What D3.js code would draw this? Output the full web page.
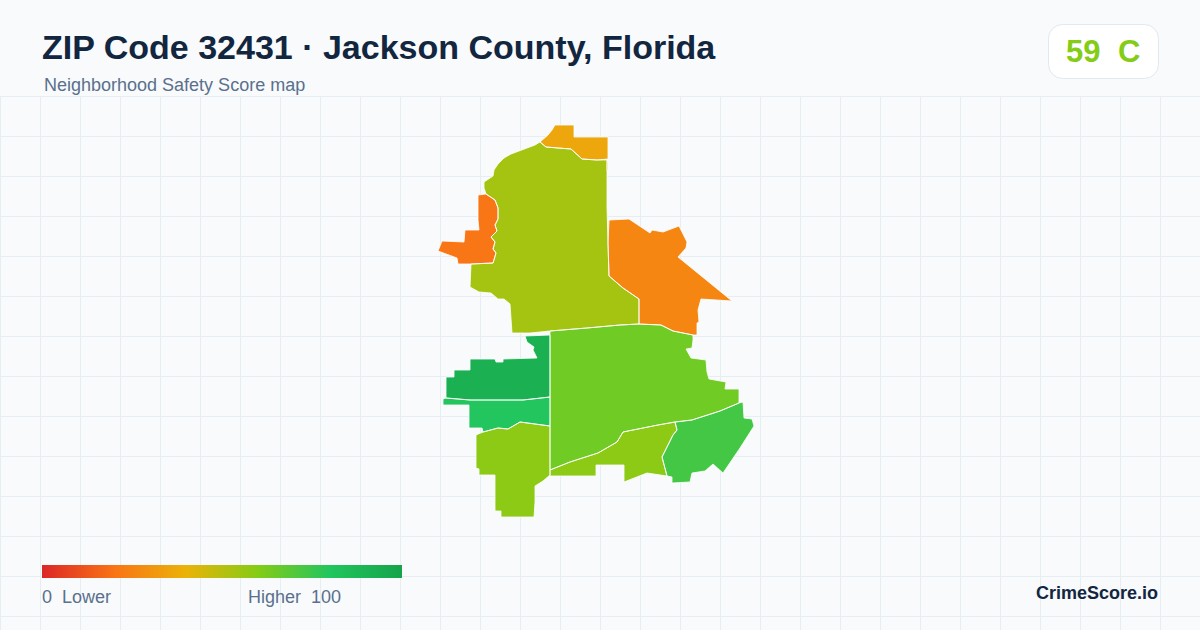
<!DOCTYPE html>
<html>
<head>
<meta charset="utf-8">
<script src="https://cdn.jsdelivr.net/npm/d3@7"></script>
<style>
    html, body { margin:0; padding:0; background:#f8fafc; }
    svg { display:block; font-family:"Liberation Sans", Arial, sans-serif; }
    text { white-space:pre; }
</style>
</head>
<body>
<div id="chart"></div>
<script>
//zone outlines in map units
const northZone = [[135,15],[154,15],[154,27],[188,27],[188,49],[177,50],[162,49],[151,39],[138,38],[126,37],[120,32],[128,25],[132,20]];
const northSliver = [[187,51],[188,51],[188,61],[187,61]];
const centralNorthZone = [[120,32],[126,37],[138,38],[151,39],[162,49],[177,50],[187,50],[187,67],[187,97],[188,133],[189,166],[203,178],[219,189],[219,214],[200,215],[167,218],[130,221],[110,223],[92,223],[90,194],[84,189],[78,189],[71,183],[59,182],[50,177],[51,154],[73,153],[76,143],[73,139],[75,132],[71,127],[77,121],[75,115],[78,109],[78,98],[75,90],[66,84],[64,78],[64,72],[73,66],[74,60],[78,54],[84,48],[91,44],[99,41],[107,38],[115,35]];
const westZone = [[58,85],[66,84],[75,90],[78,98],[78,109],[75,115],[77,121],[71,127],[75,132],[73,139],[76,143],[73,153],[51,154],[38,154],[37,148],[18,141],[22,131],[44,132],[45,120],[59,120],[58,110]];
const eastZone = [[189,110],[209,109],[230,123],[232,120],[243,122],[259,116],[267,132],[266,138],[258,147],[312,191],[281,189],[278,200],[279,212],[277,213],[277,225],[273,225],[253,221],[241,215],[219,214],[219,189],[203,178],[189,166],[188,133]];
const middleZone = [[130,221],[167,218],[200,215],[219,214],[241,215],[253,221],[273,225],[273,230],[272,238],[266,239],[271,248],[286,250],[287,262],[289,269],[306,272],[305,279],[319,279],[319,293],[300,301],[272,310],[255,312],[238,315],[203,322],[197,332],[178,343],[150,352],[130,360]];
const midWestZone = [[105,226],[130,225],[130,253],[130,287],[103,290],[67,290],[50,290],[26,288],[26,267],[34,267],[34,260],[50,260],[50,249],[75,249],[76,252],[83,252],[83,249],[117,248],[113,240],[114,237],[107,232]];
const lowerWestZone = [[23,289],[26,288],[50,290],[67,290],[103,290],[130,287],[130,316],[100,312],[88,319],[78,318],[63,322],[62,318],[49,318],[49,295],[23,295]];
const southWestZone = [[63,322],[78,318],[88,319],[100,312],[130,316],[130,365],[123,371],[115,376],[115,392],[114,407],[81,407],[81,401],[75,401],[75,365],[59,365],[59,359],[56,358],[56,325]];
const southZone = [[130,360],[150,352],[178,343],[197,332],[203,322],[238,315],[255,312],[257,320],[253,325],[242,347],[247,366],[227,363],[204,372],[204,355],[176,355],[176,366],[130,366]];
const southEastZone = [[255,312],[272,310],[300,301],[319,293],[323,292],[324,308],[332,309],[334,316],[320,338],[303,363],[293,354],[285,361],[272,363],[270,372],[252,373],[252,367],[247,366],[242,347],[253,325],[257,320]];

const zoneShapes = [northZone, northSliver, centralNorthZone, westZone, eastZone, middleZone, midWestZone, lowerWestZone, southWestZone, southZone, southEastZone];
const zoneScores = [36, 36, 53.5, 21, 26, 64, 92, 80, 58.5, 58.5, 73];

const scoreStops = [0, 20, 40, 60, 80, 100];
const scoreColors = ['#dc2626', '#f97316', '#eab308', '#84cc16', '#22c55e', '#16a34a'];

const titleText = 'ZIP Code 32431 · Jackson County, Florida';
const subtitleText = 'Neighborhood Safety Score map';
const badgeScore = '59';
const badgeGrade = 'C';
const legendLow = '0  Lower';
const legendHigh = 'Higher  100';
const brandText = 'CrimeScore.io';

const W = 1200;
const H = 630;
const headerH = 96;
const gridStep = 40;

const scaleColor = d3.scaleLinear().domain(scoreStops).range(scoreColors);
const scaleMapX = d3.scaleLinear().domain([0, 340]).range([420, 760]);
const scaleMapY = d3.scaleLinear().domain([0, 420]).range([110, 530]);
const scaleLegend = d3.scaleLinear().domain([0, 100]).range([42, 402]);

const svg = d3.select('#chart')
              .append('svg')
              .attr('width', W)
              .attr('height', H);

svg.append('rect')
   .attr('width', W)
   .attr('height', H)
   .attr('fill', '#f8fafc');

//background grid below the header
const grid = svg.append('g')
                .attr('stroke', '#e6eef3')
                .attr('stroke-width', 1);

grid.selectAll('line.v')
    .data(d3.range(0, W, gridStep))
    .join('line')
    .attr('class', 'v')
    .attr('x1', d => d + 0.5)
    .attr('x2', d => d + 0.5)
    .attr('y1', headerH)
    .attr('y2', H);

grid.selectAll('line.h')
    .data(d3.range(headerH, H, gridStep))
    .join('line')
    .attr('class', 'h')
    .attr('x1', 0)
    .attr('x2', W)
    .attr('y1', d => d + 0.5)
    .attr('y2', d => d + 0.5);

//header
svg.append('text')
   .attr('x', 42)
   .attr('y', 59)
   .attr('font-size', 34)
   .attr('font-weight', 700)
   .attr('fill', '#12263f')
   .text(titleText);

svg.append('text')
   .attr('x', 44)
   .attr('y', 91)
   .attr('font-size', 18)
   .attr('fill', '#5a708c')
   .text(subtitleText);

svg.append('rect')
   .attr('x', 1048.5)
   .attr('y', 24.5)
   .attr('width', 110)
   .attr('height', 54)
   .attr('rx', 14)
   .attr('fill', '#ffffff')
   .attr('stroke', '#e2e8f0');

svg.append('text')
   .attr('x', 1066)
   .attr('y', 62)
   .attr('font-size', 31)
   .attr('font-weight', 700)
   .attr('fill', '#84cc16')
   .text(badgeScore);

svg.append('text')
   .attr('x', 1118)
   .attr('y', 62)
   .attr('font-size', 31)
   .attr('font-weight', 700)
   .attr('fill', '#84cc16')
   .text(badgeGrade);

//map
const line = d3.line()
               .x(d => scaleMapX(d[0]))
               .y(d => scaleMapY(d[1]))
               .curve(d3.curveLinearClosed);

svg.append('g')
   .selectAll('path')
   .data(zoneShapes)
   .join('path')
   .attr('d', d => line(d))
   .attr('fill', (d, i) => scaleColor(zoneScores[i]))
   .attr('stroke', 'none');

//white borders drawn on top so they stay thin between the zones
svg.append('g')
   .selectAll('path')
   .data(zoneShapes)
   .join('path')
   .attr('d', d => line(d))
   .attr('fill', 'none')
   .attr('stroke', '#ffffff')
   .attr('stroke-width', 0.8)
   .attr('stroke-linejoin', 'round');

//legend
const gradient = svg.append('defs')
                    .append('linearGradient')
                    .attr('id', 'score-gradient');

gradient.selectAll('stop')
        .data(scoreStops)
        .join('stop')
        .attr('offset', d => d + '%')
        .attr('stop-color', d => scaleColor(d));

svg.append('rect')
   .attr('x', scaleLegend(0))
   .attr('y', 565)
   .attr('width', scaleLegend(100) - scaleLegend(0))
   .attr('height', 13)
   .attr('fill', 'url(#score-gradient)');

svg.append('text')
   .attr('x', 42)
   .attr('y', 603)
   .attr('font-size', 18)
   .attr('fill', '#5a708c')
   .text(legendLow);

svg.append('text')
   .attr('x', 341)
   .attr('y', 603)
   .attr('text-anchor', 'end')
   .attr('font-size', 18)
   .attr('fill', '#5a708c')
   .text(legendHigh);

svg.append('text')
   .attr('x', 1158)
   .attr('y', 599)
   .attr('text-anchor', 'end')
   .attr('font-size', 18)
   .attr('font-weight', 700)
   .attr('fill', '#12263f')
   .text(brandText);
</script>
</body>
</html>
